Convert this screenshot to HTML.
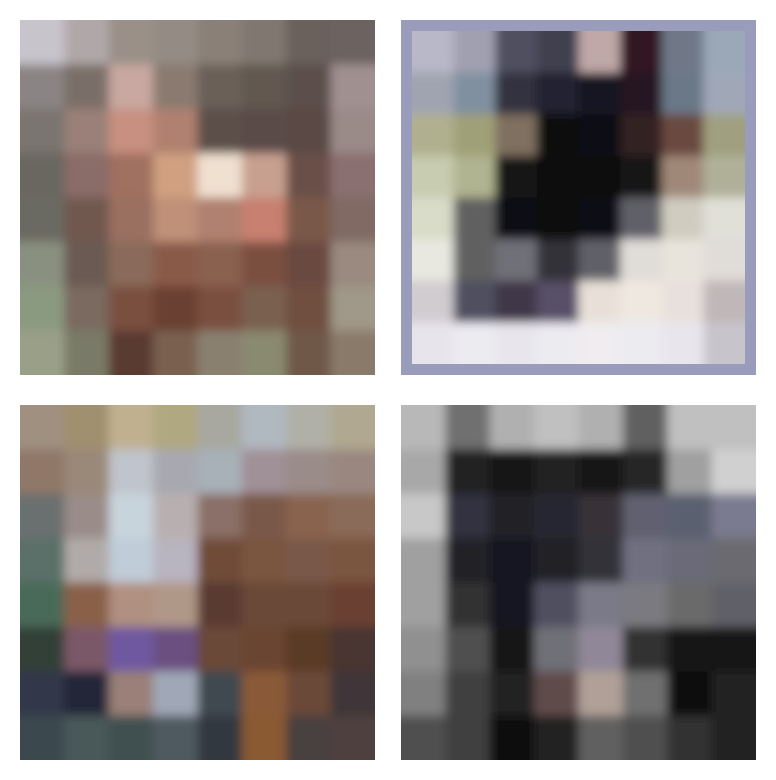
<!DOCTYPE html>
<html><head><meta charset="utf-8">
<style>
html,body{margin:0;padding:0;background:#fff;width:776px;height:780px;overflow:hidden;font-family:"Liberation Sans",sans-serif;}
svg{display:block}
</style></head>
<body>
<svg id="grid" width="776" height="780" viewBox="0 0 776 780" xmlns="http://www.w3.org/2000/svg">
<defs>
<filter id="soft" x="-0.2" y="-0.2" width="1.4" height="1.4">
<feGaussianBlur stdDeviation="5"/>
</filter>
</defs>
</svg>
<script>
const horse1 = [
["#c8c4cc","#b0a8a8","#9a9088","#948c84","#8a8078","#807870","#6a605c","#6c6260"],
["#8a8484","#7a6e68","#c8a8a0","#8a7a70","#6a6058","#625850","#5c504c","#a09090"],
["#7a7470","#9a8078","#c89080","#b08070","#5c5048","#5a4c48","#5a4844","#9a8a88"],
["#6a6660","#8a6c68","#a07060","#d0a080","#f0e0d0","#c8a090","#6a5048","#8a7070"],
["#6a6a62","#705850","#9a7060","#c09078","#b08070","#c88070","#7a5848","#806a64"],
["#8a9080","#6a5a52","#8a6a5a","#8a5a48","#8a6050","#7a5040","#6a4a40","#9a8a80"],
["#8a9a80","#7a6a60","#7a5040","#6a4030","#7a5040","#7a6050","#705040","#a09888"],
["#9aa088","#7a7a68","#5a3a30","#7a6050","#8a8070","#8a8a70","#705848","#8a7a6a"]];
const horse2 = [
["#b8b8c8","#a0a0b0","#505060","#404050","#c0a8a8","#301820","#707888","#9aa8b8"],
["#a0a4b0","#8090a0","#303040","#202030","#181820","#281820","#6a7888","#a0a8b8"],
["#b0b090","#a0a078","#807060","#080810","#100c14","#302020","#6a4a40","#a0a080"],
["#c8ccb0","#b0b490","#181418","#080810","#080810","#181418","#a08878","#b0b098"],
["#d8dcc8","#606060","#101018","#080810","#100c14","#606068","#d0ccc0","#e0e0d8"],
["#e8e8e0","#606060","#707078","#303038","#606068","#e0dcd8","#e8e4dc","#e0dcd8"],
["#d0ccd0","#505060","#403848","#585068","#e8e0d8","#f0e8e0","#e8e0dc","#c0b8b8"],
["#e8e4ec","#ecebf0","#e8e6ec","#ecebf0","#f0ecf0","#ecebf0","#e8e6ec","#c8c4cc"]];
const horse3 = [
["#a09080","#a09070","#c0b090","#b0a880","#a8a8a0","#b0b8c0","#b0b0a8","#b0a890"],
["#907868","#9a8878","#c0c4cc","#a8a8b0","#a8b0b8","#a09098","#9a8c88","#9a8880"],
["#6a7070","#9a8c88","#c8d4dc","#b8b0b0","#8a7068","#7a5848","#8a6450","#8a6a58"],
["#5a7068","#b0aaa8","#c0ccd8","#b8b4c0","#704c38","#7a5440","#7a5848","#7a5440"],
["#4a6a58","#8a6048","#b09080","#b09888","#5a3a30","#6a4838","#6a4a38","#6a4030"],
["#304038","#7a5868","#7058a0","#6a5080","#6a4838","#6a4430","#5a3a28","#4a3430"],
["#303848","#202838","#9a8078","#a0a8b8","#404850","#8a5a38","#6a4838","#403438"],
["#3a4a50","#4a5858","#405050","#505a60","#303840","#8a5a30","#4a4040","#504040"]];
const horse4 = [
["#b8b8b8","#707070","#b0b0b0","#c0c0c0","#b0b0b0","#606060","#c0c0c0","#c0c0c0"],
["#a8a8a8","#202020","#181818","#202020","#181818","#282828","#a0a0a0","#d0d0d0"],
["#c8c8c8","#303040","#202028","#282830","#383038","#606070","#5a6070","#7a7a90"],
["#a0a0a0","#202028","#181820","#202028","#303038","#707080","#6a6a78","#6a6a70"],
["#a0a0a0","#303030","#181820","#505060","#7a7a88","#7a7a80","#6a6a6a","#606068"],
["#909090","#505050","#181818","#707078","#908898","#303030","#141414","#181818"],
["#808080","#404040","#202020","#604c4c","#b0a098","#707070","#101010","#202020"],
["#505050","#404040","#101010","#202020","#606060","#505050","#303030","#202020"]];
const images = [horse1, horse2, horse3, horse4];
const imageNames = ["horse-image-1","horse-image-2","horse-image-3","horse-image-4"];

const NS = "http://www.w3.org/2000/svg";
const svg = document.getElementById("grid");
const defs = svg.querySelector("defs");
const origins = [[20,20],[401,20],[20,405],[401,405]];
const size = 355;
const PAD = 20;
images.forEach((img, k) => {
  const g = document.createElementNS(NS, "g");
  
  
  const [ox, oy] = origins[k];
  let ix = ox, iy = oy, is = size;
  if (k === 1) {
    const b = document.createElementNS(NS, "rect");
    b.setAttribute("x", ox); b.setAttribute("y", oy);
    b.setAttribute("width", size); b.setAttribute("height", size);
    b.setAttribute("fill", "#9a9cbc");
    
    
    g.appendChild(b);
    ix = ox + 11; iy = oy + 11; is = size - 22;
  }
  const cp = document.createElementNS(NS, "clipPath");
  cp.setAttribute("id", "clip" + k);
  const cr = document.createElementNS(NS, "rect");
  cr.setAttribute("x", ix); cr.setAttribute("y", iy);
  cr.setAttribute("width", is); cr.setAttribute("height", is);
  cp.appendChild(cr);
  defs.appendChild(cp);
  const clipG = document.createElementNS(NS, "g");
  clipG.setAttribute("clip-path", "url(#clip" + k + ")");
  const inner = document.createElementNS(NS, "g");
  inner.setAttribute("filter", "url(#soft)");
  const n = img.length, c = is / n;
  img.forEach((row, r) => row.forEach((col, j) => {
    let x = ix + j * c, y = iy + r * c, w = c + 0.5, h = c + 0.5;
    if (j === 0) { x -= PAD; w += PAD; }
    if (j === n - 1) { w += PAD; }
    if (r === 0) { y -= PAD; h += PAD; }
    if (r === n - 1) { h += PAD; }
    const rect = document.createElementNS(NS, "rect");
    rect.setAttribute("x", x.toFixed(2));
    rect.setAttribute("y", y.toFixed(2));
    rect.setAttribute("width", w.toFixed(2));
    rect.setAttribute("height", h.toFixed(2));
    rect.setAttribute("fill", col);
    
    
    inner.appendChild(rect);
  }));
  clipG.appendChild(inner);
  g.appendChild(clipG);
  svg.appendChild(g);
});
</script>
</body></html>
